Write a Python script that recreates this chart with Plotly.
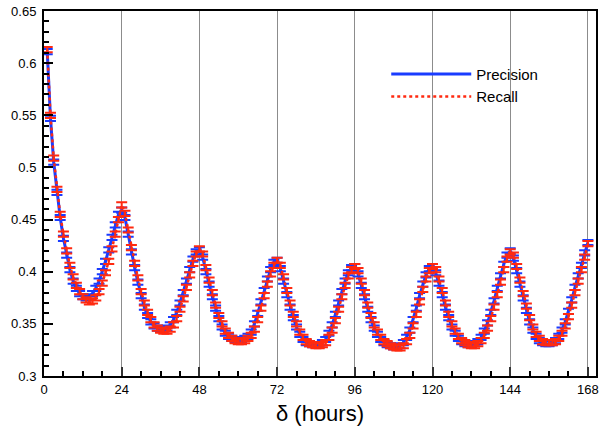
import plotly.graph_objects as go

hours = list(range(1, 169))

precision = [
    0.611, 0.547, 0.505, 0.476, 0.452, 0.432, 0.416, 0.402, 0.391, 0.384, 0.379, 0.376,
    0.375, 0.376, 0.379, 0.384, 0.391, 0.400, 0.410, 0.421, 0.433, 0.445, 0.455, 0.459,
    0.452, 0.436, 0.419, 0.404, 0.390, 0.377, 0.366, 0.358, 0.352, 0.348, 0.346, 0.345,
    0.345, 0.346, 0.349, 0.354, 0.361, 0.370, 0.380, 0.391, 0.402, 0.412, 0.419, 0.421,
    0.414, 0.400, 0.388, 0.376, 0.365, 0.355, 0.347, 0.341, 0.338, 0.336, 0.335, 0.335,
    0.335, 0.336, 0.338, 0.342, 0.350, 0.360, 0.371, 0.382, 0.393, 0.402, 0.409, 0.411,
    0.403, 0.391, 0.378, 0.366, 0.356, 0.347, 0.340, 0.335, 0.332, 0.331, 0.330, 0.330,
    0.330, 0.332, 0.335, 0.341, 0.349, 0.359, 0.370, 0.381, 0.391, 0.399, 0.404, 0.405,
    0.398, 0.387, 0.376, 0.364, 0.354, 0.346, 0.340, 0.335, 0.332, 0.330, 0.329, 0.328,
    0.328, 0.329, 0.332, 0.337, 0.344, 0.354, 0.365, 0.377, 0.388, 0.397, 0.403, 0.405,
    0.399, 0.389, 0.378, 0.366, 0.356, 0.347, 0.341, 0.336, 0.333, 0.331, 0.330, 0.330,
    0.331, 0.333, 0.337, 0.343, 0.351, 0.361, 0.372, 0.384, 0.396, 0.407, 0.416, 0.420,
    0.413, 0.401, 0.388, 0.375, 0.363, 0.352, 0.344, 0.338, 0.334, 0.332, 0.331, 0.331,
    0.332, 0.334, 0.338, 0.344, 0.352, 0.362, 0.373, 0.385, 0.396, 0.406, 0.418, 0.428,
]

recall = [
    0.613, 0.550, 0.509, 0.479, 0.455, 0.436, 0.420, 0.406, 0.395, 0.387, 0.381, 0.376,
    0.373, 0.371, 0.372, 0.375, 0.381, 0.389, 0.399, 0.410, 0.422, 0.436, 0.450, 0.464,
    0.456, 0.440, 0.423, 0.408, 0.394, 0.381, 0.370, 0.361, 0.354, 0.349, 0.346, 0.344,
    0.343, 0.343, 0.345, 0.349, 0.355, 0.364, 0.374, 0.385, 0.397, 0.408, 0.417, 0.422,
    0.417, 0.404, 0.392, 0.380, 0.368, 0.358, 0.350, 0.343, 0.339, 0.336, 0.334, 0.333,
    0.333, 0.334, 0.336, 0.339, 0.345, 0.354, 0.365, 0.377, 0.388, 0.398, 0.406, 0.411,
    0.406, 0.395, 0.382, 0.370, 0.359, 0.350, 0.342, 0.337, 0.333, 0.331, 0.330, 0.329,
    0.329, 0.330, 0.332, 0.337, 0.344, 0.353, 0.364, 0.376, 0.387, 0.396, 0.402, 0.405,
    0.401, 0.391, 0.380, 0.368, 0.358, 0.349, 0.342, 0.337, 0.333, 0.331, 0.329, 0.328,
    0.327, 0.327, 0.329, 0.333, 0.339, 0.348, 0.359, 0.371, 0.383, 0.393, 0.401, 0.405,
    0.402, 0.393, 0.382, 0.370, 0.359, 0.350, 0.343, 0.338, 0.334, 0.332, 0.330, 0.329,
    0.329, 0.331, 0.334, 0.339, 0.346, 0.355, 0.366, 0.378, 0.390, 0.402, 0.412, 0.419,
    0.416, 0.405, 0.392, 0.379, 0.367, 0.356, 0.347, 0.340, 0.336, 0.333, 0.332, 0.332,
    0.332, 0.333, 0.336, 0.341, 0.348, 0.357, 0.368, 0.380, 0.391, 0.402, 0.414, 0.427,
]

err = [0.0025] * len(hours)

x_ticks = [0, 24, 48, 72, 96, 120, 144, 168]
y_ticks = [0.3, 0.35, 0.4, 0.45, 0.5, 0.55, 0.6, 0.65]
y_tick_text = ["0.3", "0.35", "0.4", "0.45", "0.5", "0.55", "0.6", "0.65"]

BLUE = "#1a3cff"
RED = "#ff2a10"
FONT = "Liberation Sans, Arial, Helvetica, sans-serif"

fig = go.Figure()
fig.add_trace(go.Scatter(
    x=hours, y=precision, name="Precision", mode="lines",
    line=dict(color=BLUE, width=3),
    error_y=dict(type="data", array=err, color=BLUE, thickness=2, width=5.5),
))
fig.add_trace(go.Scatter(
    x=hours, y=recall, name="Recall", mode="lines",
    line=dict(color=RED, width=2.5, dash="dot"),
    error_y=dict(type="data", array=err, color=RED, thickness=2, width=5.5),
))

fig.update_layout(
    width=600, height=431,
    margin=dict(l=44, r=2, t=11, b=55),
    paper_bgcolor="white", plot_bgcolor="white",
    font=dict(family=FONT, color="black", size=13),
    showlegend=True,
    legend=dict(
        x=0.62, y=0.872, xanchor="left", yanchor="top",
        bgcolor="rgba(0,0,0,0)", font=dict(size=15, family=FONT),
        itemwidth=80, tracegroupgap=0,
    ),
)
fig.update_xaxes(
    range=[0, 170.5], tickvals=x_ticks, ticktext=[str(v) for v in x_ticks],
    showgrid=True, gridcolor="#8c8c8c", gridwidth=1,
    showline=True, linecolor="black", linewidth=2, mirror=True,
    ticks="inside", ticklen=9, tickwidth=2, tickcolor="#333",
    minor=dict(dtick=6, tick0=0, ticks="inside", ticklen=5, tickwidth=1.5, tickcolor="black", showgrid=False),
    zeroline=False,
    title=dict(text="δ (hours)", font=dict(size=22, family=FONT), standoff=10),
    tickfont=dict(size=13),
)
fig.update_yaxes(
    range=[0.3, 0.65], tickvals=y_ticks, ticktext=y_tick_text,
    showgrid=False,
    showline=True, linecolor="black", linewidth=2, mirror=True,
    ticks="inside", ticklen=9, tickwidth=2, tickcolor="black",
    minor=dict(dtick=0.01, tick0=0.3, ticks="inside", ticklen=5, tickwidth=1.5, tickcolor="black", showgrid=False),
    zeroline=False, ticklabelstandoff=3,
    tickfont=dict(size=13),
)

fig.write_html("out.html")
